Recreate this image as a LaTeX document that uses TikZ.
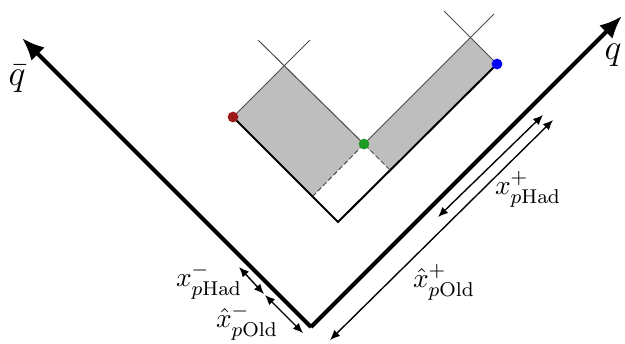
\documentclass[tikz,border=0pt]{standalone}
\usetikzlibrary{arrows.meta}
\definecolor{dotred}{RGB}{155,25,25}
\definecolor{dotgreen}{RGB}{30,155,35}
\definecolor{dotblue}{RGB}{0,0,250}
\definecolor{conegray}{RGB}{190,190,190}
\begin{document}
\begin{tikzpicture}[x=0.4pt, y=-0.4pt,
        axis/.style={line width=1.6pt, -{Latex[length=9pt,width=7.5pt]}},
        arm/.style={line width=0.8pt},
        thin/.style={line width=0.4pt, black!70},
        span/.style={line width=0.55pt, {Latex[length=4pt,width=3.4pt]}-{Latex[length=4pt,width=3.4pt]}},
        frac/.style={font=\fontsize{10.95}{13}\selectfont},
        dot/.style={circle, inner sep=0pt, minimum size=4.3pt}]
    \useasboundingbox (0,0) rectangle (625,343);
    % light-cone axes
    \coordinate (O) at (311,327);
    \coordinate (qbar) at (22,38);
    \coordinate (q) at (622,16);
    % inner cone
    \coordinate (V) at (338,222);
    \coordinate (R) at (233,117);
    \coordinate (G) at (364,144);
    \coordinate (B) at (497,64);
    \coordinate (Lc) at (284.5,65.5);
    \coordinate (Rc) at (470.5,38);
    \coordinate (Ld) at (312.5,196.5);
    \coordinate (Rd) at (389,169);
    % shaded regions
    \fill[conegray] (R) -- (Lc) -- (G) -- (Ld) -- cycle;
    \fill[conegray] (G) -- (Rc) -- (B) -- (Rd) -- cycle;
    \draw[thin] (R) -- (310,40);
    \draw[thin] (G) -- (258,40);
    \draw[thin] (G) -- (494,14);
    \draw[thin] (B) -- (444,11);
    \draw[thin, dash pattern=on 2pt off 1pt] (Ld) -- (G) -- (Rd);
    \draw[arm] (R) -- (V) -- (B);
    \node[dot, fill=dotred] (red) at (R) {};
    \node[dot, fill=dotgreen] (green) at (G) {};
    \node[dot, fill=dotblue] (blue) at (B) {};
    % axes
    \draw[axis] (O) -- (qbar);
    \draw[axis] (O) -- (q);
    \node[font=\Large] (qbarlbl) at (17,79) {$\bar{q}$};
    \node[font=\Large] (qlbl) at (613,55) {$q$};
    % momentum fractions
    \coordinate (a1) at (239,267); \coordinate (a2) at (264,294);
    \coordinate (a3) at (265,295); \coordinate (a4) at (303,333);
    \coordinate (b1) at (543,115); \coordinate (b2) at (438,217);
    \coordinate (c1) at (553,120); \coordinate (c2) at (330,340);
    \draw[span] (a1) -- (a2);
    \draw[span] (a3) -- (a4);
    \draw[span] (b1) -- (b2);
    \draw[span] (c1) -- (c2);
    \node[frac] (xmHad) at (209,281) {$x^{-}_{p\mathrm{Had}}$};
    \node[frac] (xmOld) at (247,322) {$\hat{x}^{-}_{p\mathrm{Old}}$};
    \node[frac] (xpHad) at (528,189) {$x^{+}_{p\mathrm{Had}}$};
    \node[frac] (xpOld) at (444,282) {$\hat{x}^{+}_{p\mathrm{Old}}$};
\end{tikzpicture}
\end{document}
